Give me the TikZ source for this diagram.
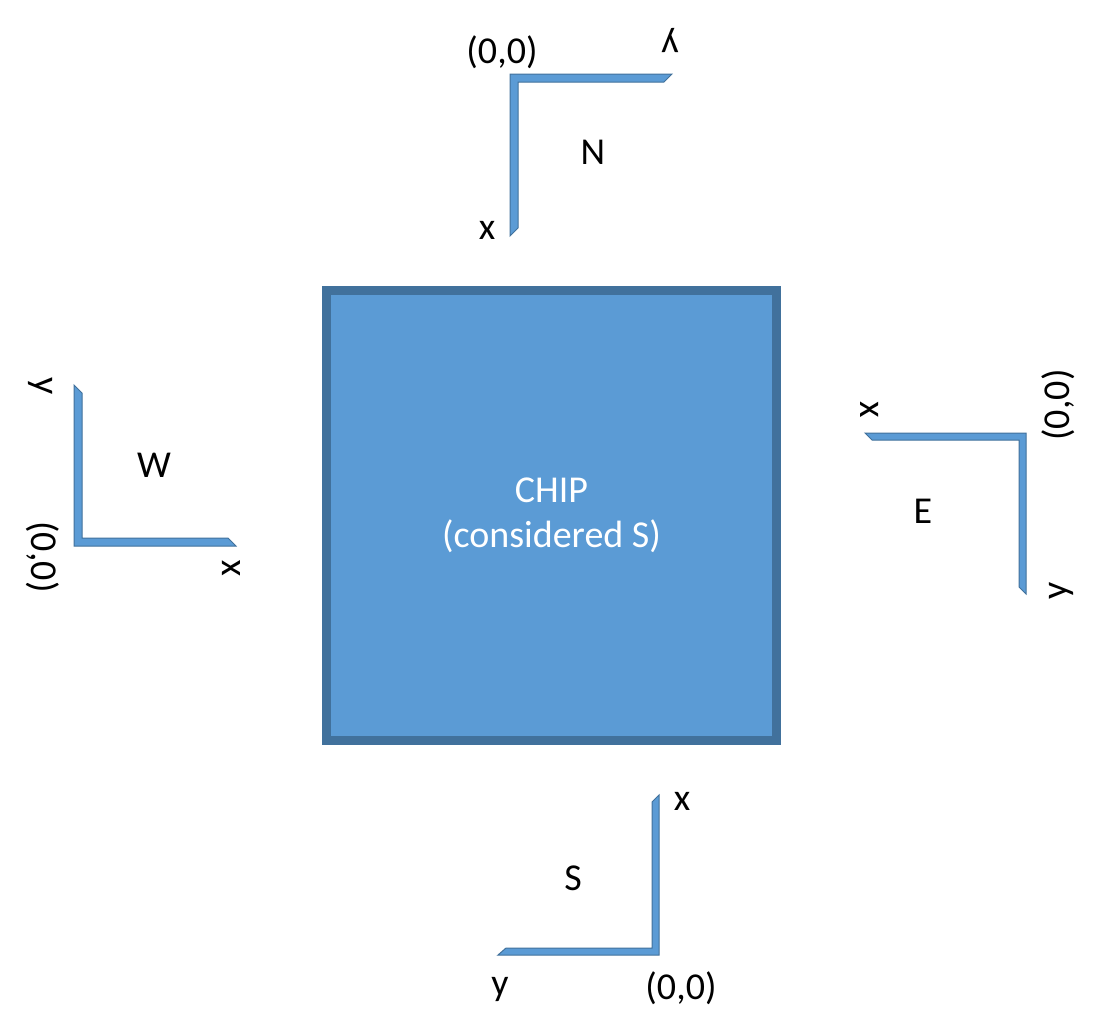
\documentclass[tikz,border=0pt]{standalone}
\usepackage{fontspec}
\setmainfont{Carlito}
\definecolor{chipfill}{HTML}{5B9BD5}
\definecolor{chipline}{HTML}{41719C}
\begin{document}
\begin{tikzpicture}[x=1pt,y=-1pt,
  lbl/.style={inner sep=0pt, font=\fontsize{38}{45}\selectfont, text=black},
  frame/.style={fill=chipfill, draw=chipline, line width=1pt, line join=miter}]
\useasboundingbox (0,0) rectangle (1101,1031);
% chip
\draw[line width=9pt, draw=chipline, fill=chipfill] (326.5,290.5) rectangle (776.5,740.5);
\node[lbl, text=white, align=center] (chip) at (551.5,515.5) {CHIP\\(considered S)};
% N
\draw[frame] (510,74) -- (672,74) -- (664,82) -- (518,82) -- (518,228) -- (510,236) -- cycle;
\node[lbl] (n00) at (502,52) {(0,0)};
\node[lbl, rotate=180] (ny) at (670,41) {y};
\node[lbl] (nx) at (487,230) {x};
\node[lbl] (nN) at (593,152) {N};
% W
\draw[frame] (74,546) -- (74,385) -- (82,393) -- (82,538) -- (228,538) -- (236,546) -- cycle;
\node[lbl, rotate=-90] (wy) at (41,386) {y};
\node[lbl, rotate=-90] (w00) at (43,557) {(0,0)};
\node[lbl] (wW) at (154,465) {W};
\node[lbl, rotate=90] (wx) at (231,568) {x};
% E
\draw[frame] (1026,433) -- (865,433) -- (872,440) -- (1019,440) -- (1019,587) -- (1026,594) -- cycle;
\node[lbl, rotate=-90] (ex) at (870,410) {x};
\node[lbl, rotate=90] (e00) at (1058,405) {(0,0)};
\node[lbl] (eE) at (923,511) {E};
\node[lbl, rotate=90] (ey) at (1061,591) {y};
% S
\draw[frame] (659,955) -- (659,795) -- (652,802) -- (652,948) -- (506,948) -- (498,955) -- cycle;
\node[lbl] (sx) at (682,801) {x};
\node[lbl] (sS) at (573,878) {S};
\node[lbl] (sy) at (500,989) {y};
\node[lbl] (s00) at (681,988) {(0,0)};
\end{tikzpicture}
\end{document}
